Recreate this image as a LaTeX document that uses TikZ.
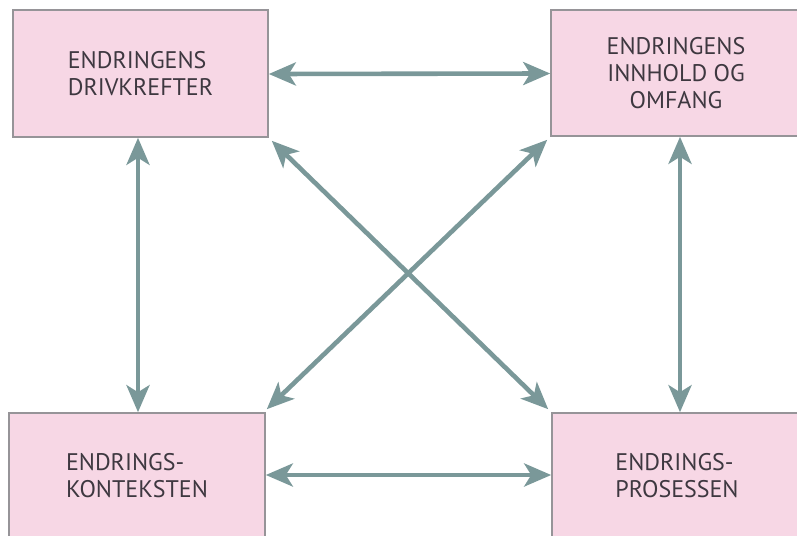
\documentclass[tikz,border=0pt]{standalone}
\usepackage{fontspec}
\setmainfont{PT Sans}
\usetikzlibrary{arrows.meta}
\definecolor{boxpink}{RGB}{247,215,229}
\definecolor{boxline}{RGB}{150,148,152}
\definecolor{linkteal}{RGB}{122,152,153}
\definecolor{txtgray}{RGB}{62,56,64}

\begin{document}
\begin{tikzpicture}[x=1pt,y=-1pt,
    box/.style={draw=boxline,line width=1.6pt,fill=boxpink,text=txtgray,
        font=\fontsize{24}{27}\selectfont,inner sep=0pt},
    link/.style={draw=linkteal,line width=4.6pt,
        {Stealth[length=27pt,width=23pt,inset=7pt]}-{Stealth[length=27pt,width=23pt,inset=7pt]}}]

\useasboundingbox (0,0) rectangle (797,535);

\node[box,minimum width=255pt,minimum height=127pt,align=left] (drive) at (140.5,73.5)
    {ENDRINGENS\\DRIVKREFTER};
\node[box,minimum width=250pt,minimum height=126pt,align=center] (content) at (676,73)
    {ENDRINGENS\\INNHOLD OG\\OMFANG};
\node[box,minimum width=256pt,minimum height=126pt,align=left] (context) at (137,476)
    {ENDRINGS-\\KONTEKSTEN};
\node[box,minimum width=250pt,minimum height=126pt,align=left] (process) at (677,476)
    {ENDRINGS-\\PROSESSEN};

\draw[link] ([yshift=-0.5pt]drive.east) -- ([yshift=-0.5pt]content.west);
\draw[link] ([yshift=1pt]context.east) -- ([yshift=1pt]process.west);
\draw[link] ([xshift=-2.5pt]drive.south) -- ([xshift=1pt]context.north);
\draw[link] ([xshift=4pt]content.south) -- ([xshift=3pt]process.north);
\draw[link] ([shift={(3pt,-3pt)}]drive.south east) -- ([shift={(-3pt,3pt)}]process.north west);
\draw[link] ([shift={(1pt,3pt)}]context.north east) -- ([shift={(-3pt,-3pt)}]content.south west);

\end{tikzpicture}
\end{document}
